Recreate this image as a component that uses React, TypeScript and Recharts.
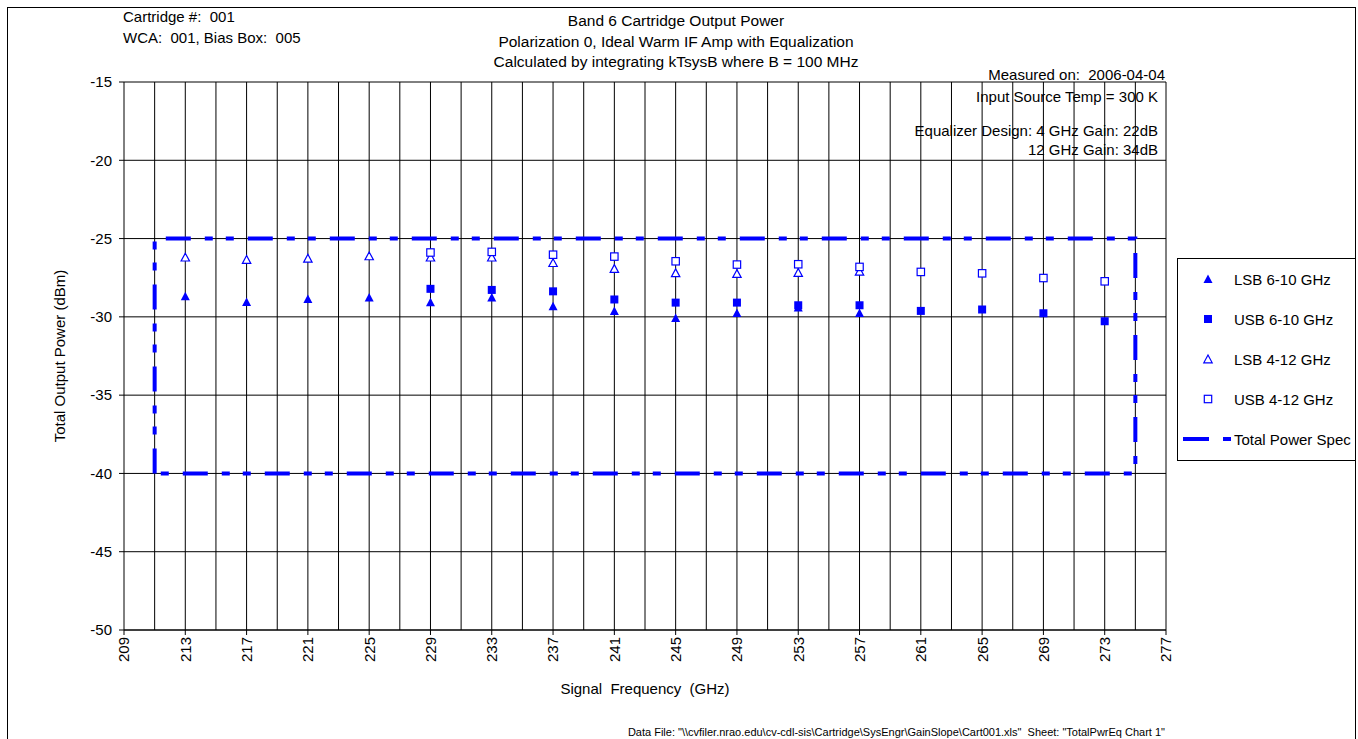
import React from 'react';
import {
  ComposedChart,
  Scatter,
  Line,
  XAxis,
  YAxis,
  CartesianGrid,
  ReferenceLine,
  Label,
} from 'recharts';

const BLUE = '#0000FF';
const FONT = '"Liberation Sans", Arial, sans-serif';

// signal frequencies (GHz)
const lsbFreqs = [213, 217, 221, 225, 229, 233, 237, 241, 245, 249, 253, 257];
const usbFreqs = [229, 233, 237, 241, 245, 249, 253, 257, 261, 265, 269, 273];

// output power (dBm)
const lsb610 = [-28.68, -29.05, -28.86, -28.77, -29.07, -28.77, -29.33, -29.62, -30.07, -29.75, -29.41, -29.75];
const usb610 = [-28.21, -28.28, -28.37, -28.89, -29.09, -29.09, -29.26, -29.26, -29.62, -29.53, -29.77, -30.28];
const lsb412 = [-26.19, -26.34, -26.26, -26.11, -26.19, -26.19, -26.54, -26.92, -27.19, -27.24, -27.17, -27.09];
const usb412 = [-25.89, -25.85, -26.03, -26.15, -26.45, -26.66, -26.64, -26.81, -27.13, -27.22, -27.52, -27.73];

// total power spec box, drawn in this order
const specFreqs = [211, 211, 275, 275, 211];
const specPower = [-40, -25, -25, -40, -40];

const xTicks = [209, 213, 217, 221, 225, 229, 233, 237, 241, 245, 249, 253, 257, 261, 265, 269, 273, 277];
const yTicks = [-50, -45, -40, -35, -30, -25, -20, -15];
const gridFreqs = [
  211, 213, 215, 217, 219, 221, 223, 225, 227, 229, 231, 233, 235, 237, 239, 241, 243,
  245, 247, 249, 251, 253, 255, 257, 259, 261, 263, 265, 267, 269, 271, 273, 275, 277,
];

const zip = (xs: number[], ys: number[]) => xs.map((x, i) => ({ x, y: ys[i] }));

const TriFilled = (p: any) => (
  <path d={`M${p.cx},${p.cy - 4.5}L${p.cx + 4.5},${p.cy + 4}L${p.cx - 4.5},${p.cy + 4}Z`} fill={BLUE} />
);
const SqFilled = (p: any) => <rect x={p.cx - 4} y={p.cy - 4} width={8} height={8} fill={BLUE} />;
const TriOpen = (p: any) => (
  <path
    d={`M${p.cx},${p.cy - 4}L${p.cx + 4.2},${p.cy + 3.8}L${p.cx - 4.2},${p.cy + 3.8}Z`}
    fill="#fff"
    stroke={BLUE}
    strokeWidth={1.2}
  />
);
const SqOpen = (p: any) => (
  <rect x={p.cx - 3.7} y={p.cy - 3.7} width={7.4} height={7.4} fill="#fff" stroke={BLUE} strokeWidth={1.2} />
);

const XTick = ({ x, y, payload }: any) => (
  <text
    transform={`translate(${x},${y}) rotate(-90)`}
    textAnchor="end"
    dy="0.36em"
    fontSize={15}
    fontFamily={FONT}
    fill="#000"
  >
    {payload.value}
  </text>
);

const legendRows = [
  { name: 'LSB 6-10 GHz', Shape: TriFilled },
  { name: 'USB 6-10 GHz', Shape: SqFilled },
  { name: 'LSB 4-12 GHz', Shape: TriOpen },
  { name: 'USB 4-12 GHz', Shape: SqOpen },
];

function LegendBox() {
  return (
    <div
      style={{
        position: 'absolute',
        left: 1177,
        top: 258,
        width: 200,
        height: 201,
        border: '1px solid #000',
        background: '#fff',
        fontFamily: FONT,
        fontSize: 15,
        color: '#000',
      }}
    >
      {legendRows.map(({ name, Shape }) => (
        <div key={name} style={{ height: 40, display: 'flex', alignItems: 'center' }}>
          <svg width={56} height={40} style={{ display: 'block' }}>
            <Shape cx={30} cy={20} />
          </svg>
          <span>{name}</span>
        </div>
      ))}
      <div style={{ height: 40, display: 'flex', alignItems: 'center' }}>
        <svg width={56} height={40} style={{ display: 'block' }}>
          <line x1={5} y1={20} x2={31} y2={20} stroke={BLUE} strokeWidth={4} />
          <line x1={45} y1={20} x2={53} y2={20} stroke={BLUE} strokeWidth={4} />
        </svg>
        <span style={{ whiteSpace: 'nowrap' }}>Total Power Spec</span>
      </div>
    </div>
  );
}

const txt = (extra: React.CSSProperties): React.CSSProperties => ({
  position: 'absolute',
  fontFamily: FONT,
  fontSize: 15,
  lineHeight: '20px',
  color: '#000',
  whiteSpace: 'pre',
  ...extra,
});

export default function App() {
  return (
    <div
      style={{
        position: 'absolute',
        left: 0,
        top: 0,
        width: 1358,
        height: 739,
        overflow: 'hidden',
        background: '#fff',
        fontFamily: FONT,
      }}
    >
      <ComposedChart
        width={1358}
        height={739}
        margin={{ top: 82, right: 192, bottom: 39, left: 54 }}
        style={{ position: 'absolute', left: 0, top: 0 }}
      >
        <CartesianGrid vertical={false} stroke="#000" strokeWidth={1} />
        {gridFreqs.map((f) => (
          <ReferenceLine key={f} x={f} stroke="#000" strokeWidth={1} />
        ))}
        <XAxis
          type="number"
          dataKey="x"
          domain={[209, 277]}
          ticks={xTicks}
          interval={0}
          allowDataOverflow
          height={70}
          tickSize={5}
          tickMargin={2}
          tick={<XTick />}
          axisLine={{ stroke: '#000' }}
          tickLine={{ stroke: '#000' }}
        >
          <Label
            value={'Signal\u00a0 Frequency\u00a0 (GHz)'}
            position="insideBottom"
            offset={6}
            style={{ fontSize: 15, fontFamily: FONT, fill: '#000' }}
          />
        </XAxis>
        <YAxis
          type="number"
          domain={[-50, -15]}
          ticks={yTicks}
          interval={0}
          allowDataOverflow
          width={70}
          tickSize={5}
          tickMargin={7}
          tick={{ fontSize: 15, fontFamily: FONT, fill: '#000' }}
          axisLine={{ stroke: '#000' }}
          tickLine={{ stroke: '#000' }}
        >
          <Label
            value="Total Output Power (dBm)"
            angle={-90}
            position="insideLeft"
            offset={6}
            style={{ fontSize: 15, fontFamily: FONT, fill: '#000', textAnchor: 'middle' }}
          />
        </YAxis>
        <Line
          data={zip(specFreqs, specPower)}
          dataKey="y"
          type="linear"
          stroke={BLUE}
          strokeWidth={4}
          strokeDasharray="25 14 8 13 8 14"
          dot={false}
          activeDot={false}
          isAnimationActive={false}
        />
        <Scatter data={zip(lsbFreqs, lsb610)} dataKey="y" shape={TriFilled} isAnimationActive={false} />
        <Scatter data={zip(usbFreqs, usb610)} dataKey="y" shape={SqFilled} isAnimationActive={false} />
        <Scatter data={zip(lsbFreqs, lsb412)} dataKey="y" shape={TriOpen} isAnimationActive={false} />
        <Scatter data={zip(usbFreqs, usb412)} dataKey="y" shape={SqOpen} isAnimationActive={false} />
      </ComposedChart>

      <LegendBox />

      <div
        style={{
          position: 'absolute',
          left: 7,
          top: 7,
          width: 1347,
          height: 800,
          borderLeft: '1px solid #000',
          borderTop: '1px solid #000',
          borderRight: '1px solid #000',
          pointerEvents: 'none',
        }}
      />
      <div style={{ position: 'absolute', left: 1356, top: 0, width: 2, height: 739, background: '#fff' }} />

      <div style={txt({ left: 123, top: 7 })}>Cartridge #:  001</div>
      <div style={txt({ left: 123, top: 28 })}>WCA:  001, Bias Box:  005</div>

      <div style={txt({ left: 376, width: 600, top: 11, textAlign: 'center', fontSize: 15.5 })}>
        Band 6 Cartridge Output Power
      </div>
      <div style={txt({ left: 376, width: 600, top: 32, textAlign: 'center', fontSize: 15.5 })}>
        Polarization 0, Ideal Warm IF Amp with Equalization
      </div>
      <div style={txt({ left: 376, width: 600, top: 52, textAlign: 'center', fontSize: 15.5 })}>
        Calculated by integrating kTsysB where B = 100 MHz
      </div>

      <div style={txt({ right: 193, top: 65 })}>Measured on:  2006-04-04</div>
      <div style={txt({ right: 200, top: 87 })}>Input Source Temp = 300 K</div>
      <div style={txt({ right: 200, top: 121 })}>Equalizer Design: 4 GHz Gain: 22dB</div>
      <div style={txt({ right: 200, top: 140 })}>12 GHz Gain: 34dB</div>

      <div style={txt({ right: 193, top: 725, fontSize: 11, lineHeight: '14px' })}>
        {'Data File: "\\\\cvfiler.nrao.edu\\cv-cdl-sis\\Cartridge\\SysEngr\\GainSlope\\Cart001.xls"  Sheet: "TotalPwrEq Chart 1"'}
      </div>
    </div>
  );
}
